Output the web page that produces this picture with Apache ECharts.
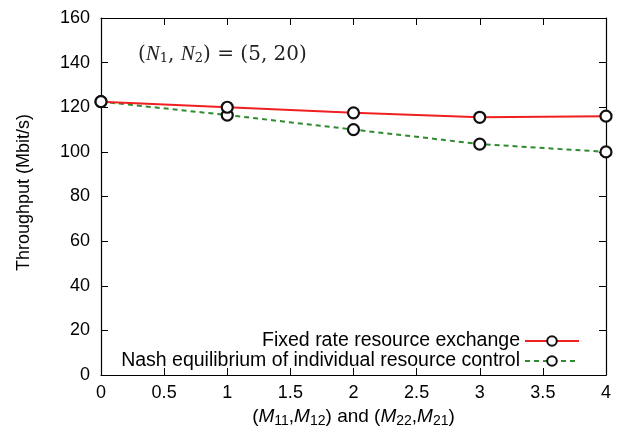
<!DOCTYPE html>
<html>
<head>
<meta charset="utf-8">
<script src="https://cdn.jsdelivr.net/npm/echarts@6/dist/echarts.min.js"></script>
<style>
  html, body { margin: 0; padding: 0; background: #fff; }
  #chart { width: 625px; height: 433px; }
</style>
</head>
<body>
<div id="chart"></div>
<script>
// x 坐标 (M11,M12) and (M22,M21)
const xValues = [0, 1, 2, 3, 4]
// 吞吐量 Mbit/s
const fixedRate = [122.5, 120, 117.5, 115.5, 116]
const nashEq = [122.5, 116.5, 110, 103.5, 100]
const seriesNames = ['Fixed rate resource exchange', 'Nash equilibrium of individual resource control']

const FONT = 'Liberation Sans, Arial, sans-serif'
const SERIF = 'DejaVu Serif, Liberation Serif, serif'
const chart = echarts.init(document.getElementById('chart'))

const axisCommon = {
  axisLine: { show: true, onZero: false, lineStyle: { color: '#000', width: 1.2 } },
  axisTick: { show: true, inside: true, length: 7, lineStyle: { color: '#000' } },
  splitLine: { show: false }
}

const pairs = (ys) => xValues.map((x, i) => [x, ys[i]])

const legendText = { fontSize: 19.5, color: '#000', fontFamily: FONT }

const option = {
  backgroundColor: '#fff',
  animation: false,
  textStyle: { fontFamily: FONT },
  grid: { left: 101, right: 19, top: 18, bottom: 58 },
  xAxis: [
    {
      type: 'value', min: 0, max: 4, interval: 0.5, position: 'bottom',
      ...axisCommon,
      axisLabel: { color: '#000', fontSize: 18, fontFamily: FONT, margin: 9 },
      name: '{t|(}{i|M}{s|11}{t|,}{i|M}{s|12}{t|) and (}{i|M}{s|22}{t|,}{i|M}{s|21}{t|)}',
      nameLocation: 'middle',
      nameGap: 28,
      nameTextStyle: {
        rich: {
          t: { fontSize: 19, color: '#000', fontFamily: FONT },
          i: { fontSize: 19, color: '#000', fontFamily: FONT, fontStyle: 'italic' },
          s: { fontSize: 14, color: '#000', fontFamily: FONT, padding: [9, 0, 0, 0] }
        }
      }
    },
    {
      type: 'value', min: 0, max: 4, interval: 0.5, position: 'top',
      ...axisCommon,
      axisLabel: { show: false }
    }
  ],
  yAxis: [
    {
      type: 'value', min: 0, max: 160, interval: 20, position: 'left',
      ...axisCommon,
      axisLabel: { color: '#000', fontSize: 18, fontFamily: FONT, margin: 11 },
      name: 'Throughput (Mbit/s)',
      nameLocation: 'middle',
      nameGap: 68,
      nameTextStyle: { fontSize: 18, color: '#000', fontFamily: FONT, padding: [0, 0, 0, 8] }
    },
    {
      type: 'value', min: 0, max: 160, interval: 20, position: 'right',
      ...axisCommon,
      axisLabel: { show: false }
    }
  ],
  legend: [
    {
      data: [seriesNames[0]],
      right: 40, top: 326, align: 'right',
      itemWidth: 54, itemHeight: 12, itemGap: 0,
      textStyle: legendText,
      selectedMode: false
    },
    {
      data: [seriesNames[1]],
      right: 40, top: 346, align: 'right',
      itemWidth: 54, itemHeight: 12, itemGap: 0,
      textStyle: legendText,
      selectedMode: false
    }
  ],
  graphic: [
    {
      type: 'text',
      left: 138, top: 44,
      style: {
        text: '{t|(}{i|N}{s|1}{t|, }{i|N}{s|2}{t|) = (5, 20)}',
        rich: {
          t: { fontSize: 20, fill: '#222', fontFamily: SERIF },
          i: { fontSize: 21, fill: '#222', fontFamily: 'Liberation Serif, serif', fontStyle: 'italic' },
          s: { fontSize: 13, fill: '#222', fontFamily: SERIF, padding: [8, 0, 0, 0] }
        }
      }
    }
  ],
  series: [
    {
      name: seriesNames[0],
      type: 'line',
      data: pairs(fixedRate),
      symbol: 'circle',
      symbolSize: 11,
      lineStyle: { color: '#f02020', width: 2 },
      itemStyle: { color: '#fff', borderColor: '#111', borderWidth: 2.2 },
      z: 3
    },
    {
      name: seriesNames[1],
      type: 'line',
      data: pairs(nashEq),
      symbol: 'circle',
      symbolSize: 11,
      lineStyle: { color: '#2e8b2e', width: 2, type: [5, 4] },
      itemStyle: { color: '#fff', borderColor: '#111', borderWidth: 2.2 },
      z: 2
    }
  ]
}

chart.setOption(option)
</script>
</body>
</html>
